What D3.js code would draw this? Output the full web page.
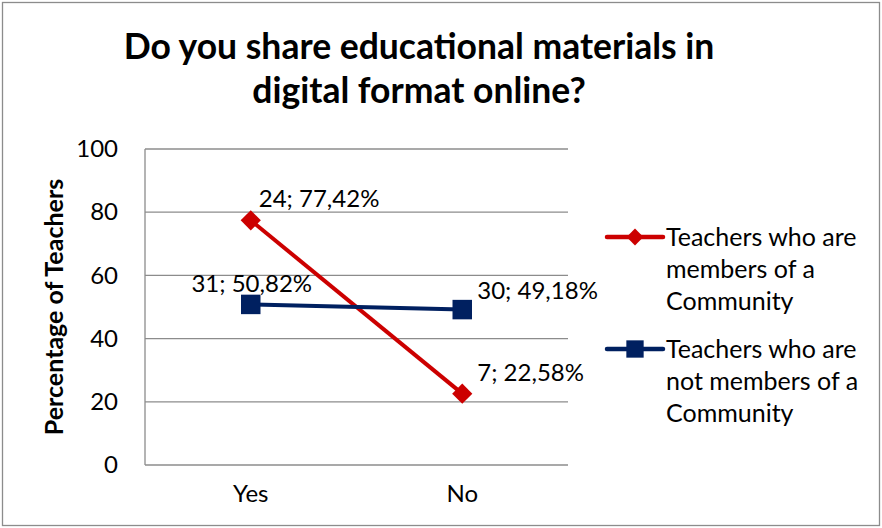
<!DOCTYPE html>
<html lang="en">
<head>
  <meta charset="UTF-8">
  <title>Do you share educational materials in digital format online?</title>
  <script src="https://cdn.jsdelivr.net/npm/d3@7/dist/d3.min.js"></script>
<style>
body{
  margin: 0;
  background: #fff;
}
text{
  font-family: Lato, "Open Sans", sans-serif;
  fill: #000;
}
.titulo{
  font-weight: bold;
  font-size: 35.5px;
}
.grid line{
  stroke: #8c8c8c;
  stroke-width: 1.3;
}
</style>
</head>
<body>
  <div id="grafico"></div>

  <script>
    // datos
    var categorias = ['Yes', 'No'];
    var miembros = [77.42, 22.58];
    var noMiembros = [50.82, 49.18];
    var etiquetasMiembros = ['24; 77,42%', '7; 22,58%'];
    var etiquetasNoMiembros = ['31; 50,82%', '30; 49,18%'];
    var ticksY = [0, 20, 40, 60, 80, 100];
    var nombres = [
      ['Teachers who are', 'members of a', 'Community'],
      ['Teachers who are', 'not members of a', 'Community']
    ];
    var colores = ['#cc0000', '#002060'];

    var w = 882, h = 528;
    var margen = {top: 149, left: 145, right: 314, bottom: 63};

    var svg = d3.select("#grafico")
      .append("svg")
      .attr("width", w)
      .attr("height", h);

    // marco exterior
    svg.append("rect")
      .attr("x", 2.5).attr("y", 2.5)
      .attr("width", w - 5).attr("height", h - 5)
      .attr("fill", "none")
      .attr("stroke", "#8c8c8c")
      .attr("stroke-width", 1.3);

    // titulo
    svg.append("text").attr("class", "titulo")
      .attr("x", 419).attr("y", 59)
      .attr("text-anchor", "middle")
      .text("Do you share educational materials in");
    svg.append("text").attr("class", "titulo")
      .attr("x", 419).attr("y", 103)
      .attr("text-anchor", "middle")
      .text("digital format online?");

    //Escalas
    var xScale = d3.scaleBand()
      .domain(categorias)
      .range([margen.left, w - margen.right]);

    var yScale = d3.scaleLinear()
      .domain([0, 100])
      .range([h - margen.bottom, margen.top]);

    // lineas de grilla
    svg.append("g").attr("class", "grid")
      .selectAll("line")
      .data(ticksY)
      .enter().append("line")
      .attr("x1", margen.left).attr("x2", w - margen.right)
      .attr("y1", function(d){ return yScale(d); })
      .attr("y2", function(d){ return yScale(d); });

    svg.append("g").attr("class", "grid")
      .append("line")
      .attr("x1", margen.left).attr("x2", margen.left)
      .attr("y1", yScale(0)).attr("y2", yScale(100));

    // eje Y
    var ejeY = svg.append("g")
      .attr("transform", "translate(" + margen.left + ",0)")
      .call(d3.axisLeft(yScale).tickValues(ticksY).tickSize(0).tickPadding(27));
    ejeY.select(".domain").remove();
    ejeY.selectAll("text").style("font-size", "24px").style("font-family", "Lato, sans-serif");

    // eje X
    var ejeX = svg.append("g")
      .attr("transform", "translate(0," + yScale(0) + ")")
      .call(d3.axisBottom(xScale).tickSize(0).tickPadding(20));
    ejeX.select(".domain").remove();
    ejeX.selectAll("text").style("font-size", "24px").style("font-family", "Lato, sans-serif");

    // titulo eje Y
    svg.append("text")
      .attr("transform", "translate(63," + yScale(50) + ") rotate(-90)")
      .attr("text-anchor", "middle")
      .style("font-weight", "bold")
      .style("font-size", "25px")
      .text("Percentage of Teachers");

    var cx = function(c){ return xScale(c) + xScale.bandwidth() / 2; };

    var line = d3.line()
      .x(function(d, i){ return cx(categorias[i]); })
      .y(function(d){ return yScale(d); });

    var series = [miembros, noMiembros];
    var etiquetas = [etiquetasMiembros, etiquetasNoMiembros];
    var simbolos = [d3.symbolDiamond2, d3.symbolSquare];
    var tamanos = [260, 380];

    series.forEach(function(s, k){
      svg.append("path")
        .datum(s)
        .attr("d", line)
        .attr("fill", "none")
        .attr("stroke", colores[k])
        .attr("stroke-width", 4);

      svg.selectAll(".m" + k)
        .data(s)
        .enter().append("path")
        .attr("class", "m" + k)
        .attr("transform", function(d, i){ return "translate(" + cx(categorias[i]) + "," + yScale(d) + ")"; })
        .attr("d", d3.symbol().type(simbolos[k]).size(tamanos[k]))
        .attr("fill", colores[k]);
    });

    // etiquetas de datos
    var posEtiquetas = [
      [[8, -13, "start"], [15, -13, "start"]],
      [[1, -12, "middle"], [15, -11, "start"]]
    ];
    etiquetas.forEach(function(et, k){
      et.forEach(function(t, i){
        var p = posEtiquetas[k][i];
        svg.append("text")
          .attr("x", cx(categorias[i]) + p[0])
          .attr("y", yScale(series[k][i]) + p[1])
          .attr("text-anchor", p[2])
          .style("font-size", "24px")
          .text(t);
      });
    });

    // leyenda
    var leyendaY = [237, 349];
    nombres.forEach(function(n, k){
      var g = svg.append("g").attr("transform", "translate(607," + leyendaY[k] + ")");
      g.append("line")
        .attr("x1", 0).attr("x2", 56)
        .attr("stroke", colores[k]).attr("stroke-width", 4.5)
        .attr("stroke-linecap", "round");
      g.append("path")
        .attr("transform", "translate(28,0)")
        .attr("d", d3.symbol().type(simbolos[k]).size(k == 0 ? 180 : 300))
        .attr("fill", colores[k]);
      n.forEach(function(t, j){
        g.append("text")
          .attr("x", 59)
          .attr("y", 9 + j * 32)
          .style("font-size", "25px")
          .text(t);
      });
    });
  </script>
</body>
</html>
